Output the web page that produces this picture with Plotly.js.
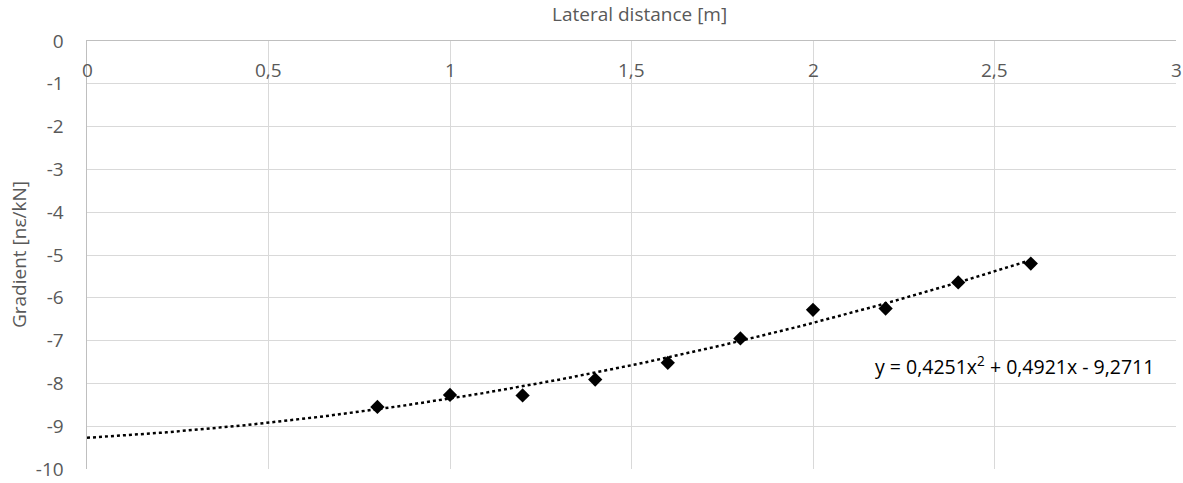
<!DOCTYPE html>
<html><head><meta charset="utf-8">
<script src="https://cdn.plot.ly/plotly-3.0.1.min.js"></script>
<style>html,body{margin:0;padding:0;background:#fff;}#chart{width:1183px;height:483px;}</style>
</head><body><div id="chart"></div>
<script>
const lateralDistance = [0.8, 1.0, 1.2, 1.4, 1.6, 1.8, 2.0, 2.2, 2.4, 2.6];
const gradient = [-8.55, -8.27, -8.28, -7.91, -7.52, -6.95, -6.28, -6.25, -5.64, -5.2];
const trendCoeffs = [0.4251, 0.4921, -9.2711]; // a, b, c from displayed equation
const trendRange = [0, 2.6];
const xTickVals = [0, 0.5, 1, 1.5, 2, 2.5, 3];
const xTickText = ['0', '0,5', '1', '1,5', '2', '2,5', '3'];
const yTickVals = [0, -1, -2, -3, -4, -5, -6, -7, -8, -9, -10];
const yTickText = ['0', '-1', '-2', '-3', '-4', '-5', '-6', '-7', '-8', '-9', '-10'];

const tx = [], ty = [];
const nT = 131;
for (let i = 0; i < nT; i++) {
  const x = trendRange[0] + (trendRange[1] - trendRange[0]) * i / (nT - 1);
  tx.push(x);
  ty.push(trendCoeffs[0] * x * x + trendCoeffs[1] * x + trendCoeffs[2]);
}

const font = {family: 'Open Sans, sans-serif', size: 19, color: '#595959'};

const data = [
  {x: tx, y: ty, mode: 'lines', line: {color: '#000', dash: 'dot', width: 2.5}, hoverinfo: 'skip', showlegend: false},
  {x: lateralDistance, y: gradient, mode: 'markers', marker: {symbol: 'diamond', color: '#000', size: 11}, showlegend: false}
];

const annotations = xTickVals.map((v, i) => ({
  x: v, y: 1, xref: 'x', yref: 'paper', yshift: -29, showarrow: false,
  text: xTickText[i], font: font, xanchor: 'center', yanchor: 'middle'
}));
annotations.push({
  x: 0.507, y: 1, xref: 'paper', yref: 'paper', yshift: 27, showarrow: false,
  text: 'Lateral distance [m]', font: font, xanchor: 'center', yanchor: 'middle'
});
annotations.push({
  x: -0.0624, y: 0.5, xref: 'paper', yref: 'paper', showarrow: false, textangle: -90,
  text: 'Gradient [nε/kN]', font: font, xanchor: 'center', yanchor: 'middle'
});
annotations.push({
  x: 2.555, y: -7.59, xref: 'x', yref: 'y', showarrow: false,
  text: 'y = 0,4251x<sup>2</sup> + 0,4921x - 9,2711',
  font: {family: 'Open Sans, sans-serif', size: 19.5, color: '#000'},
  xanchor: 'center', yanchor: 'middle'
});

const layout = {
  width: 1183, height: 483,
  margin: {l: 87, r: 7, t: 41, b: 14},
  paper_bgcolor: '#fff', plot_bgcolor: '#fff',
  font: font,
  showlegend: false,
  xaxis: {
    side: 'top', range: [0, 3], tickvals: xTickVals, showticklabels: false, ticks: '',
    showgrid: true, gridcolor: '#d9d9d9', gridwidth: 1,
    showline: true, linecolor: '#bfbfbf', linewidth: 1.5,
    zeroline: false
  },
  yaxis: {
    range: [-10, 0], tickvals: yTickVals, ticktext: yTickText, ticks: '',
    showgrid: true, gridcolor: '#d9d9d9', gridwidth: 1,
    showline: true, linecolor: '#bfbfbf', linewidth: 1.5,
    zeroline: false, tickfont: font, ticklabelstandoff: 18
  },
  annotations: annotations
};

Plotly.newPlot('chart', data, layout, {displayModeBar: false, staticPlot: true});
</script>
</body></html>
